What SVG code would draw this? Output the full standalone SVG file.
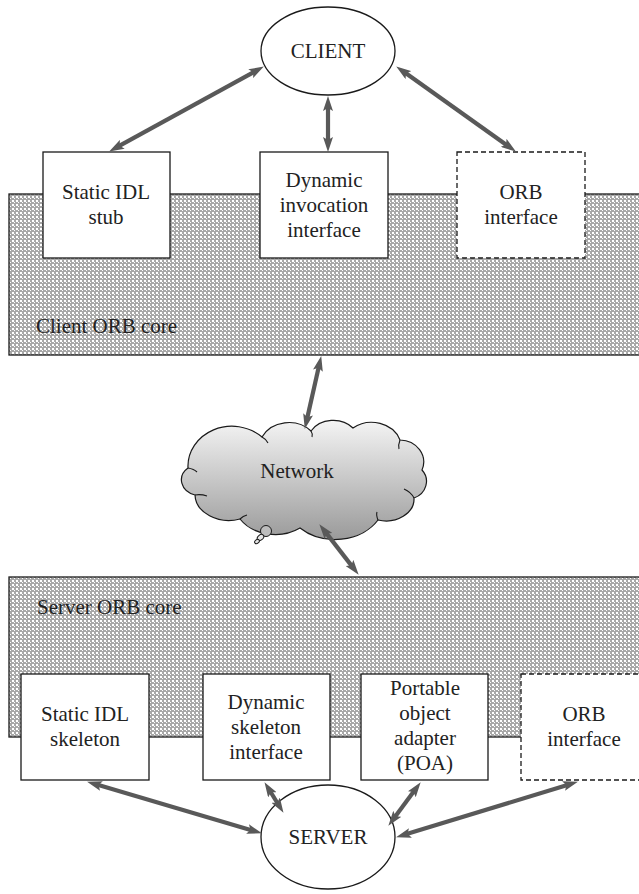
<svg xmlns="http://www.w3.org/2000/svg" width="639" height="894" viewBox="0 0 639 894" font-family="'Liberation Serif', 'DejaVu Serif', serif">
  <style>
    text { font-family: 'Liberation Serif', 'DejaVu Serif', serif; font-size: 21px; fill: #222; }
    .mid { text-anchor: middle; }
    .box { fill: #fff; stroke: #1a1a1a; stroke-width: 1.3; }
    .dash { fill: #fff; stroke: #1a1a1a; stroke-width: 1.3; stroke-dasharray: 5 3; }
    .core { fill: url(#stipple); stroke: #1a1a1a; stroke-width: 1.3; }
    .ell { fill: #fff; stroke: #1a1a1a; stroke-width: 1.3; }
    .arrow { stroke: #595959; stroke-width: 4.2; fill: none; marker-start: url(#head); marker-end: url(#head); }
  </style>
  <defs>
    <pattern id="stipple" width="4" height="4" patternUnits="userSpaceOnUse">
      <rect width="4" height="4" fill="#a8a8a8"/>
      <rect x="0" y="0" width="2" height="2" fill="#ffffff"/>
      <rect x="2" y="2" width="1" height="1" fill="#ffffff"/>
    </pattern>
    <linearGradient id="cloudFill" x1="0" y1="0" x2="0" y2="1">
      <stop offset="0" stop-color="#f4f4f4"/>
      <stop offset="1" stop-color="#9a9a9a"/>
    </linearGradient>
    <marker id="head" viewBox="0 0 15 10" markerWidth="15" markerHeight="10" refX="4" refY="5" orient="auto-start-reverse" markerUnits="userSpaceOnUse">
      <path d="M0,0 L15,5 L0,10 L3,5 z" fill="#595959"/>
    </marker>
  </defs>

  <!-- ORB core layers -->
  <g id="client-core">
    <rect class="core" x="9" y="194" width="640" height="161"/>
    <text x="36" y="333">Client ORB core</text>
  </g>
  <g id="server-core">
    <rect class="core" x="9" y="577" width="640" height="160"/>
    <text x="37" y="614">Server ORB core</text>
  </g>

  <!-- client side -->
  <g id="client">
    <ellipse class="ell" cx="328" cy="51" rx="67" ry="44"/>
    <text class="mid" x="328" y="58">CLIENT</text>
  </g>
  <g id="static-idl-stub">
    <rect class="box" x="43" y="152" width="127" height="106"/>
    <text class="mid" x="106" y="199">Static IDL</text>
    <text class="mid" x="106" y="224">stub</text>
  </g>
  <g id="dynamic-invocation">
    <rect class="box" x="260" y="152" width="128" height="106"/>
    <text class="mid" x="324" y="187">Dynamic</text>
    <text class="mid" x="324" y="212">invocation</text>
    <text class="mid" x="324" y="237">interface</text>
  </g>
  <g id="client-orb-interface">
    <rect class="dash" x="457" y="152" width="128" height="106"/>
    <text class="mid" x="521" y="199">ORB</text>
    <text class="mid" x="521" y="224">interface</text>
  </g>

  <!-- network cloud -->
  <g id="network">
    <path d="M188,468 A44,40 0 0 1 262,437 A30,26 0 0 1 311,431 A26,22 0 0 1 353,428 A30,26 0 0 1 400,440 A24,22 0 0 1 422,470 A20,18 0 0 1 414,498 A28,22 0 0 1 378,520 A50,40 0 0 1 300,528 A42,34 0 0 1 240,519 A34,26 0 0 1 195,495 A20,16 0 0 1 188,468 Z" fill="url(#cloudFill)" stroke="#1a1a1a" stroke-width="1.2"/>
    <g fill="none" stroke="#1a1a1a" stroke-width="1.1">
      <path d="M262,437 q4,2 6,6"/>
      <path d="M400,440 q-2,5 -1,9"/>
      <path d="M414,498 q-3,-6 -10,-9"/>
      <path d="M378,520 q-2,-5 -1,-8"/>
      <path d="M240,519 q3,-3 7,-4"/>
      <path d="M195,495 q6,-1 12,1"/>
      <path d="M188,468 q6,1 9,4"/>
      <path d="M311,431 q2,3 1,6"/>
    </g>
    <circle cx="266" cy="531" r="5.5" fill="#bdbdbd" stroke="#1a1a1a" stroke-width="1"/>
    <ellipse cx="260.5" cy="537.5" rx="3.6" ry="2.6" transform="rotate(-40 260.5 537.5)" fill="#e6e6e6" stroke="#1a1a1a" stroke-width="1"/>
    <ellipse cx="257" cy="541.5" rx="2.6" ry="1.9" transform="rotate(-40 257 541.5)" fill="#e6e6e6" stroke="#1a1a1a" stroke-width="1"/>
    <text class="mid" x="297" y="478">Network</text>
  </g>

  <!-- server side -->
  <g id="static-idl-skeleton">
    <rect class="box" x="21" y="674" width="128" height="106"/>
    <text class="mid" x="85" y="721">Static IDL</text>
    <text class="mid" x="85" y="746">skeleton</text>
  </g>
  <g id="dynamic-skeleton">
    <rect class="box" x="203" y="674" width="127" height="106"/>
    <text class="mid" x="266" y="709">Dynamic</text>
    <text class="mid" x="266" y="734">skeleton</text>
    <text class="mid" x="266" y="759">interface</text>
  </g>
  <g id="poa">
    <rect class="box" x="361" y="674" width="127" height="106"/>
    <text class="mid" x="425" y="695">Portable</text>
    <text class="mid" x="425" y="720">object</text>
    <text class="mid" x="425" y="745">adapter</text>
    <text class="mid" x="425" y="770">(POA)</text>
  </g>
  <g id="server-orb-interface">
    <rect class="dash" x="521" y="674" width="128" height="106"/>
    <text class="mid" x="584" y="721">ORB</text>
    <text class="mid" x="584" y="746">interface</text>
  </g>
  <g id="server">
    <ellipse class="ell" cx="328" cy="837" rx="67" ry="52"/>
    <text class="mid" x="328" y="844">SERVER</text>
  </g>

  <!-- connectors -->
  <g id="connectors">
    <line class="arrow" x1="254.2" y1="71.8" x2="118.8" y2="146.2"/>
    <line class="arrow" x1="328" y1="107" x2="328" y2="141"/>
    <line class="arrow" x1="405.2" y1="72.8" x2="506.9" y2="145.2"/>
    <line class="arrow" x1="318.8" y1="366.8" x2="307.2" y2="418.2"/>
    <line class="arrow" x1="326.1" y1="532.9" x2="351.9" y2="566.1"/>
    <line class="arrow" x1="97.6" y1="784.8" x2="251.4" y2="830.2"/>
    <line class="arrow" x1="270.3" y1="791.5" x2="277.7" y2="803.5"/>
    <line class="arrow" x1="414.1" y1="791.1" x2="394.9" y2="817"/>
    <line class="arrow" x1="567.4" y1="784.9" x2="406.6" y2="834.1"/>
  </g>
</svg>
